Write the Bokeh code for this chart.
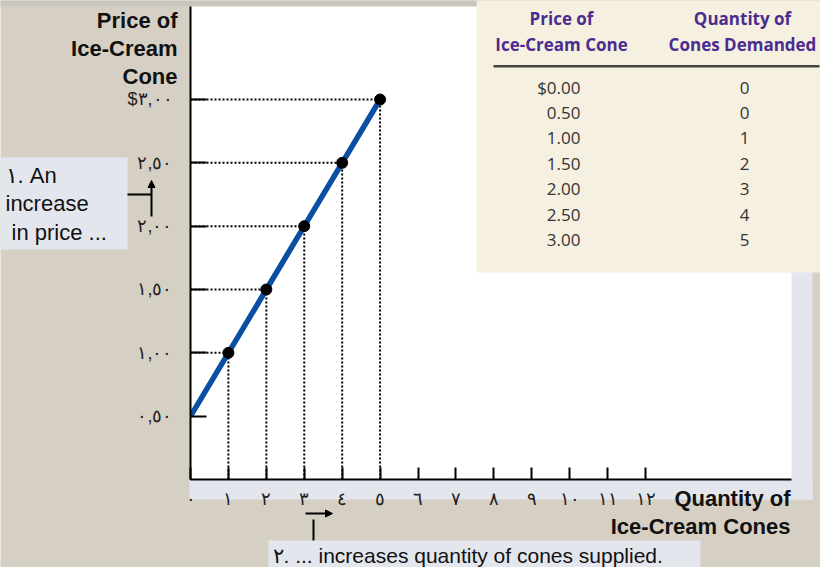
from bokeh.plotting import figure
from bokeh.models import (Range1d, FixedTicker, Label, BoxAnnotation, Arrow,
                          NormalHead, GridBox)
from bokeh.embed import file_html
from bokeh.resources import INLINE

# ---- data ----
curve_qty = [0, 1, 2, 3, 4, 5]
curve_price = [0.5, 1.0, 1.5, 2.0, 2.5, 3.0]
point_qty = [1, 2, 3, 4, 5]
point_price = [1.0, 1.5, 2.0, 2.5, 3.0]

x_ticks = list(range(0, 13))
x_tick_labels = ["٠", "١", "٢", "٣", "٤", "٥", "٦", "٧", "٨", "٩", "١٠", "١١", "١٢"]
y_ticks = [0.5, 1.0, 1.5, 2.0, 2.5, 3.0]
y_tick_labels = ["٠,٥٠", "١,٠٠", "١,٥٠", "٢,٠٠", "٢,٥٠", "$٣,٠٠"]

table_header_price = ["Price of", "Ice-Cream Cone"]
table_header_qty = ["Quantity of", "Cones Demanded"]
table_prices = ["$0.00", "0.50", "1.00", "1.50", "2.00", "2.50", "3.00"]
table_qty = ["0", "0", "1", "2", "3", "4", "5"]

y_title = ["Price of", "Ice-Cream", "Cone"]
x_title = ["Quantity of", "Ice-Cream Cones"]
note_left = ["١. An", "increase", "in price ..."]
note_bottom = "٢. ... increases quantity of cones supplied."

FONT = "Liberation Sans"
TFONT = "Open Sans"
BG = "#d6d0c4"
PALE = "#e4e6ed"
W, H = 820, 567
BASE_FIX = 7  # text baseline correction (px)

# ================= background / annotation layer (page-pixel space) =================
bg = figure(width=W, height=H, output_backend="svg", toolbar_location=None,
            x_range=Range1d(8, 8 + W), y_range=Range1d(8 + H, 8),
            x_axis_location=None, y_axis_location=None, min_border=0,
            background_fill_color=BG, border_fill_color=BG, outline_line_color=None,
            title=None, frame_align=False)
bg.grid.visible = False

def box(l, r, t, b, c):
    bg.add_layout(BoxAnnotation(left=l, right=r, top=t, bottom=b, fill_color=c,
                                fill_alpha=1, line_color=None, level="underlay"))

def label(x, y, txt, align="left", font=FONT, size="22px", style="normal", color="#111"):
    bg.add_layout(Label(x=x, y=y - BASE_FIX, text=txt, text_align=align,
                        text_baseline="alphabetic",
                        text_font=font, text_font_size=size, text_font_style=style,
                        text_color=color))

def line(x0, y0, x1, y1, head=False):
    bg.add_layout(Arrow(x_start=x0, y_start=y0, x_end=x1, y_end=y1,
                        end=NormalHead(size=7, fill_color="black", line_color="black") if head else None,
                        line_width=2, line_color="black"))

box(0, 840, 0, 14, "#cbc6bd")       # top strip
box(797, 820, 14, 507, PALE)        # right shadow
box(197, 820, 487, 507, PALE)       # bottom shadow
box(198, 799, 14, 487, "white")     # chart panel

# axis titles
for txt, yb in zip(y_title, [35, 63, 91]):
    label(185, yb, txt, align="right", style="bold")
for txt, yb in zip(x_title, [513, 541]):
    label(798, yb, txt, align="right", style="bold")

# left note
box(6, 135, 165, 257, PALE)
for txt, xl, yb in zip(note_left, [13, 13, 19], [190, 218, 247]):
    label(xl, yb, txt)
line(135, 202, 159, 202)
line(159, 224, 159, 188, head=True)

# bottom note
box(276, 708, 548, 600, PALE)
label(280, 570, note_bottom, size="21px")
line(313, 521, 340, 521, head=True)
line(321, 527, 321, 548)

# table
box(484, 845, -10, 280, "#f6f0e1")
for col, xc in [(table_header_price, 569), (table_header_qty, 750)]:
    for txt, yb in zip(col, [33, 59]):
        label(xc, yb, txt, align="center", font=TFONT, size="17px", style="bold",
              color="#4b2c8f")
box(501, 827, 72.5, 75, "#444")
for i, (pr, q) in enumerate(zip(table_prices, table_qty)):
    yb = 102 + 25.4 * i
    label(588, yb, pr, align="right", font=TFONT, size="17px", color="#333")
    label(752, yb, q, align="center", font=TFONT, size="17px", color="#333")

# ================= chart layer (data space, real axes) =================
PX_X = 37.92   # pixels per cone
PX_Y = 126.67  # pixels per dollar

p = figure(width=W, height=H, output_backend="svg", toolbar_location=None,
           x_range=Range1d(0, (799 - 198) / PX_X), y_range=Range1d(0, (487 - 14) / PX_Y),
           min_border_left=190, min_border_right=29, min_border_top=6, min_border_bottom=88,
           background_fill_alpha=0, border_fill_alpha=0, outline_line_color=None,
           title=None, frame_align=False)
p.xgrid.visible = False
p.ygrid.visible = False

for ax in (p.xaxis, p.yaxis):
    ax.axis_line_width = 2
    ax.axis_line_color = "black"
    ax.major_tick_line_width = 2
    ax.major_tick_line_color = "black"
    ax.major_tick_out = 0
    ax.minor_tick_in = 0
    ax.minor_tick_out = 0
    ax.major_label_text_font = FONT
    ax.major_label_text_font_size = "18px"
    ax.major_label_text_color = "#222"

p.xaxis.ticker = FixedTicker(ticks=x_ticks)
p.xaxis.major_label_overrides = dict(zip(x_ticks, x_tick_labels))
p.xaxis.major_tick_in = 12
p.xaxis.major_label_standoff = 9

p.yaxis.ticker = FixedTicker(ticks=y_ticks)
p.yaxis.major_label_overrides = dict(zip(y_ticks, y_tick_labels))
p.yaxis.major_tick_in = 16
p.yaxis.major_label_standoff = 18

zeros = [0 for _ in point_qty]
p.segment(x0=zeros, y0=point_price, x1=point_qty, y1=point_price,
          line_dash="2 2", line_width=2, line_color="black")
p.segment(x0=point_qty, y0=zeros, x1=point_qty, y1=point_price,
          line_dash="2 2", line_width=2, line_color="black")

p.line(curve_qty, curve_price, line_width=5.5, line_color="#0a4fa2")
p.scatter(point_qty, point_price, size=11, color="black")

layout = GridBox(children=[(bg, 0, 0), (p, 0, 0)], width=W, height=H)

open("out.html", "w").write(file_html(layout, INLINE))
